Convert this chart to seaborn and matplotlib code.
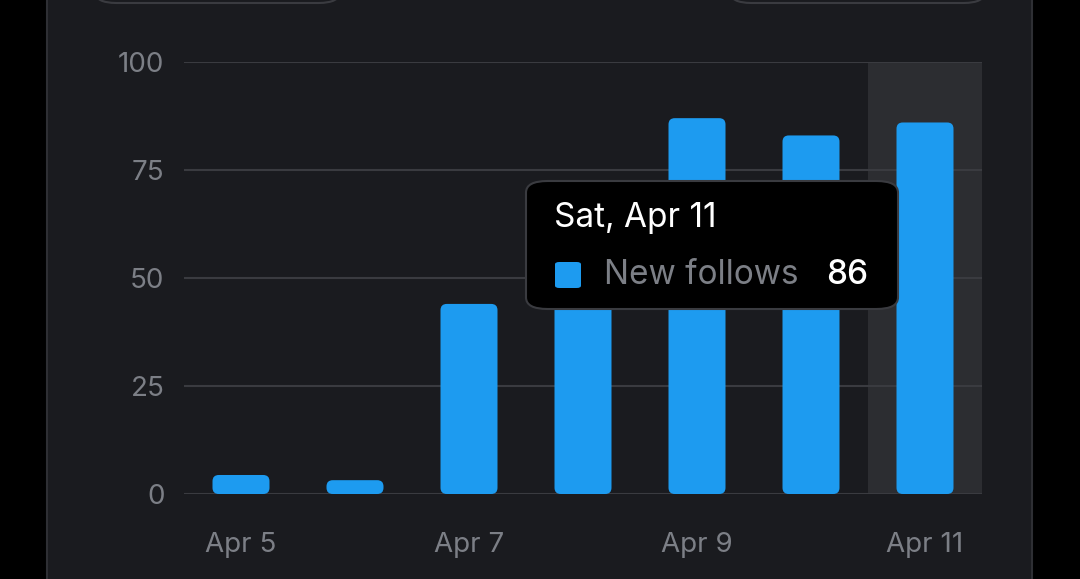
import matplotlib
matplotlib.use('Agg')
import matplotlib.pyplot as plt
import seaborn as sns
import pandas as pd
from matplotlib.patches import FancyBboxPatch

days = ['Apr 5', 'Apr 6', 'Apr 7', 'Apr 8', 'Apr 9', 'Apr 10', 'Apr 11']
follows = [4.4, 3.2, 44, 60, 87, 83, 86]
yticks = [0, 25, 50, 75, 100]
shown_ticks = ['Apr 5', 'Apr 7', 'Apr 9', 'Apr 11']

sns.set_style('dark')
plt.rcParams['font.family'] = ['Inter', 'DejaVu Sans']

BG = '#000000'
CARD = '#1a1b1f'
BLUE = '#1d9bf0'
GRID = '#3a3b40'
TXT = '#7c7f86'

fig = plt.figure(figsize=(10.8, 5.79), dpi=100, facecolor=BG)
# card
fig.patches.append(FancyBboxPatch((47 / 1080, -0.1), 985 / 1080, 1.15, boxstyle='round,pad=0,rounding_size=0.03',
                                  transform=fig.transFigure, facecolor=CARD, edgecolor='#2e2f34', lw=1.5, zorder=-2))
for x0, w in [(95, 245), (730, 255)]:
    fig.patches.append(FancyBboxPatch((x0 / 1080, 1 - 3 / 579), w / 1080, 0.05, boxstyle='round,pad=0,rounding_size=0.02',
                                      transform=fig.transFigure, facecolor=CARD, edgecolor='#3a3b40', lw=1.5, zorder=-1))

ax = fig.add_axes([184 / 1080, 1 - 494 / 579, (982 - 184) / 1080, (494 - 62) / 579])
ax.set_zorder(0)
ax.set_facecolor('none')
df = pd.DataFrame({'day': days, 'follows': follows})
for y in yticks:
    ax.axhline(y, color=GRID, lw=1.5, zorder=0.5)
sns.barplot(data=df, x='day', y='follows', color=BLUE, width=0.5, ax=ax, zorder=2, saturation=1)
ax.set_xlim(-0.5, 6.5)
ax.set_ylim(0, 100)

# swap seaborn's bars for rounded ones at the same place
aspect = (100 / 432) / (7 / 798)
for p in list(ax.patches):
    x, y, w, h = p.get_x(), p.get_y(), p.get_width(), p.get_height()
    p.set_visible(False)
    ax.add_patch(FancyBboxPatch((x, y), w, h, boxstyle='round,pad=0,rounding_size=0.055',
                                mutation_aspect=aspect, facecolor=BLUE, edgecolor='none', zorder=2))
# hovered day highlight
ax.axvspan(len(days) - 1.5, len(days) - 0.5, color='#2c2d31', zorder=0.2, lw=0)

ax.set_yticks(yticks)
ax.set_yticklabels([str(y) for y in yticks], color=TXT, fontsize=20)
ax.set_xticks([days.index(d) for d in shown_ticks])
ax.set_xticklabels(shown_ticks, color=TXT, fontsize=20)
ax.tick_params(axis='both', length=0)
ax.tick_params(axis='x', pad=27)
ax.tick_params(axis='y', pad=14)
ax.set_xlabel('')
ax.set_ylabel('')
for s in ax.spines.values():
    s.set_visible(False)
ax.grid(False)

# tooltip
fig.patches.append(FancyBboxPatch((526 / 1080, 1 - 309 / 579), 372 / 1080, 128 / 579, boxstyle='round,pad=0,rounding_size=0.02',
                                  transform=fig.transFigure, facecolor='#000000', edgecolor='#3a3b40', lw=1.5, zorder=5))
fig.patches.append(FancyBboxPatch((555 / 1080, 1 - 288 / 579), 26 / 1080, 26 / 579, boxstyle='round,pad=0,rounding_size=0.004',
                                  transform=fig.transFigure, facecolor=BLUE, edgecolor='none', zorder=6))
fig.text(554 / 1080, 1 - 218 / 579, 'Sat, Apr 11', color='white', fontsize=24, va='center', zorder=6)
fig.text(604 / 1080, 1 - 275 / 579, 'New follows', color=TXT, fontsize=24, va='center', zorder=6)
fig.text(868 / 1080, 1 - 275 / 579, str(follows[-1]), color='white', fontsize=24, fontweight='medium',
         va='center', ha='right', zorder=6)

fig.savefig('out.png', dpi=100, facecolor=BG)
